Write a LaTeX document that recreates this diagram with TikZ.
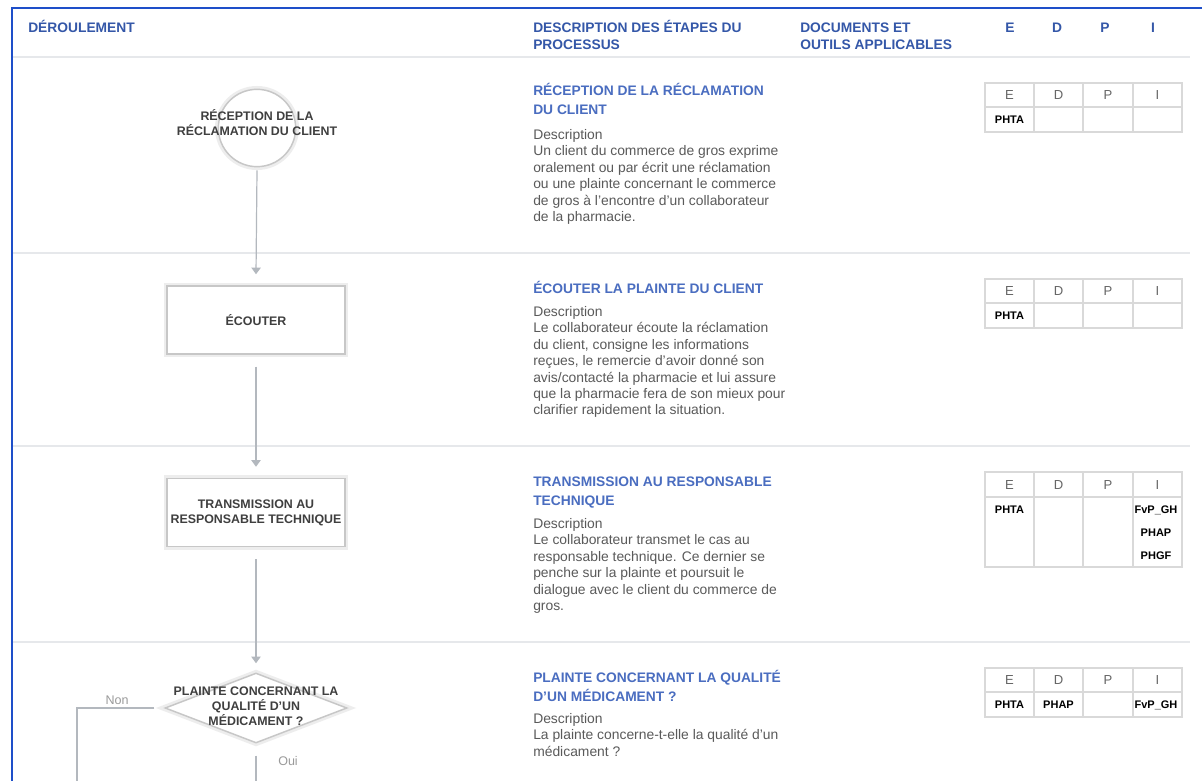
\documentclass[tikz,border=0pt]{standalone}
\usepackage{fontspec}
\setmainfont{Liberation Sans}
\usetikzlibrary{shapes.geometric,arrows.meta,calc}
\definecolor{frameblue}{HTML}{1E4FC9}
\definecolor{headblue}{HTML}{3457A8}
\definecolor{titleblue}{HTML}{4A6DC0}
\definecolor{bodygrey}{HTML}{5A5A5A}
\definecolor{flowtext}{HTML}{3F3F3F}
\definecolor{rulegrey}{HTML}{E6E8EB}
\definecolor{tabgrey}{HTML}{D9D9D9}
\definecolor{conngrey}{HTML}{B3B8BE}
\definecolor{labgrey}{HTML}{9A9A9A}
\definecolor{edpgrey}{HTML}{666666}
\newcommand{\edpgrid}[4]{%
  \draw[tabline] (985,#2) rectangle (1182,#4);
  \draw[tabline] (985,#3) -- (1182,#3);
  \foreach \cx in {1034,1083,1133} \draw[tabline] (\cx,#2) -- (\cx,#4);
  \node[edph] (#1E) at (1009.5,{(#2+#3)/2}) {E};
  \node[edph] (#1D) at (1058.5,{(#2+#3)/2}) {D};
  \node[edph] (#1P) at (1108,{(#2+#3)/2}) {P};
  \node[edph] (#1I) at (1157.5,{(#2+#3)/2}) {I};
}
\begin{document}
\begin{tikzpicture}[x=0.75pt,y=-0.75pt,
  hdr/.style={font=\fontsize{10.35}{12.75}\selectfont\bfseries, text=headblue, inner sep=0, align=left, anchor=base west},
  hdrc/.style={font=\fontsize{10.35}{12.75}\selectfont\bfseries, text=headblue, inner sep=0, anchor=base},
  ttl/.style={font=\fontsize{10.35}{14.25}\selectfont\bfseries, text=titleblue, inner sep=0, align=left, anchor=base west},
  body/.style={font=\fontsize{10.4}{12.3}\selectfont, text=bodygrey, inner sep=0, align=left, anchor=base west},
  flowtxt/.style={font=\fontsize{9.3}{11.25}\selectfont\bfseries, text=flowtext, inner sep=0, align=center},
  flowshape/.style={draw=black!22, line width=1.1pt, fill=white, preaction={draw=black!7, line width=5pt}},
  circ/.style={flowshape, circle, minimum size=58pt, inner sep=0},
  boxn/.style={flowshape, rectangle, minimum width=133.5pt, minimum height=51pt, inner sep=0, flowtxt},
  diam/.style={flowshape, diamond, minimum width=136.5pt, minimum height=52.5pt, inner sep=0},
  conn/.style={draw=conngrey, line width=0.9pt, -{Triangle[width=7pt,length=5pt]}},
  plain/.style={draw=conngrey, line width=0.9pt},
  lab/.style={font=\fontsize{9.4}{11}\selectfont, text=labgrey, inner sep=0},
  tabline/.style={draw=tabgrey, line width=0.8pt},
  edph/.style={font=\fontsize{9.8}{11}\selectfont, text=edpgrey, inner sep=0, text height=7pt, text depth=0pt},
  edpv/.style={font=\fontsize{8.25}{10}\selectfont\bfseries, text=black, inner sep=0, text height=6pt, text depth=0pt}
]
\useasboundingbox (0,0) rectangle (1202,781);
\fill[white] (0,0) rectangle (1202,781);

% frame and rules
\foreach \ry in {57,253,446,642} \draw[rulegrey, line width=0.9pt] (13,\ry) -- (1190,\ry);
\draw[frameblue, line width=1.5pt] (12,781) -- (12,8) -- (1202,8);

% header (multi-line nodes: base = baseline of last line)
\node[hdr] (hDer) at (28,33) {DÉROULEMENT};
\node[hdr] (hDesc) at (533,50) {DESCRIPTION DES ÉTAPES DU\\PROCESSUS};
\node[hdr] (hDoc) at (800,50) {DOCUMENTS ET\\OUTILS APPLICABLES};
\node[hdrc] (hE) at (1010,33) {E};
\node[hdrc] (hD) at (1057,33) {D};
\node[hdrc] (hP) at (1105,33) {P};
\node[hdrc] (hI) at (1153,33) {I};

% descriptions
\node[ttl] (r1t) at (533,115) {RÉCEPTION DE LA RÉCLAMATION\\DU CLIENT};
\node[body] (r1d) at (533,221.5) {Description\\Un client du commerce de gros exprime\\oralement ou par écrit une réclamation\\ou une plainte concernant le commerce\\de gros à l’encontre d’un collaborateur\\de la pharmacie.};
\node[ttl] (r2t) at (533,293) {ÉCOUTER LA PLAINTE DU CLIENT};
\node[body] (r2d) at (533,414.9) {Description\\Le collaborateur écoute la réclamation\\du client, consigne les informations\\reçues, le remercie d’avoir donné son\\avis/contacté la pharmacie et lui assure\\que la pharmacie fera de son mieux pour\\clarifier rapidement la situation.};
\node[ttl] (r3t) at (533,505) {TRANSMISSION AU RESPONSABLE\\TECHNIQUE};
\node[body] (r3d) at (533,610.5) {Description\\Le collaborateur transmet le cas au\\responsable technique. Ce dernier se\\penche sur la plainte et poursuit le\\dialogue avec le client du commerce de\\gros.};
\node[ttl] (r4t) at (533,701) {PLAINTE CONCERNANT LA QUALITÉ\\D’UN MÉDICAMENT ?};
\node[body] (r4d) at (533,756.3) {Description\\La plainte concerne-t-elle la qualité d’un\\médicament ?};

% tables
\edpgrid{ta}{83}{107}{132}
\node[edpv] (taE1) at (1009.5,119.5) {PHTA};
\edpgrid{tb}{279}{303}{328}
\node[edpv] (tbE1) at (1009.5,315.5) {PHTA};
\edpgrid{tc}{472}{497}{567}
\node[edpv] (tcE1) at (1009.5,509) {PHTA};
\node[edpv] (tcI1) at (1156,509) {FvP\_GH};
\node[edpv] (tcI2) at (1156,532) {PHAP};
\node[edpv] (tcI3) at (1156,555) {PHGF};
\edpgrid{td}{668}{692}{717}
\node[edpv] (tdE1) at (1009.5,704.5) {PHTA};
\node[edpv] (tdD1) at (1058.5,704.5) {PHAP};
\node[edpv] (tdI1) at (1156,704.5) {FvP\_GH};

% flowchart
\node[circ] (n1) at (257,128) {};
\node[flowtxt] (n1t) at (257,122.5) {RÉCEPTION DE LA\\RÉCLAMATION DU CLIENT};
\node[boxn] (n2) at (256,320) {ÉCOUTER};
\node[boxn] (n3) at (256,512.5) {TRANSMISSION AU\\RESPONSABLE TECHNIQUE};
\node[diam] (n4) at (256,708) {};
\node[flowtxt] (n4t) at (256,706.5) {PLAINTE CONCERNANT LA\\QUALITÉ D’UN\\MÉDICAMENT ?};

\draw[conn] ($(n1.south)+(0,3)$) -- ($(n2.north)+(0,-11)$);
\draw[conn] ($(n2.south)+(0,12)$) -- ($(n3.north)+(0,-11)$);
\draw[conn] ($(n3.south)+(0,12)$) -- ($(n4.north)+(0,-9)$);
\coordinate (nonEnd) at (77,781);
\coordinate (ouiEnd) at (256,781);
\draw[plain] ($(n4.west)+(-10,0)$) -| (nonEnd);
\draw[plain] ($(n4.south)+(0,12)$) -- (ouiEnd);
\node[lab] (lnon) at (117,700) {Non};
\node[lab] (loui) at (288,761) {Oui};
\end{tikzpicture}
\end{document}
